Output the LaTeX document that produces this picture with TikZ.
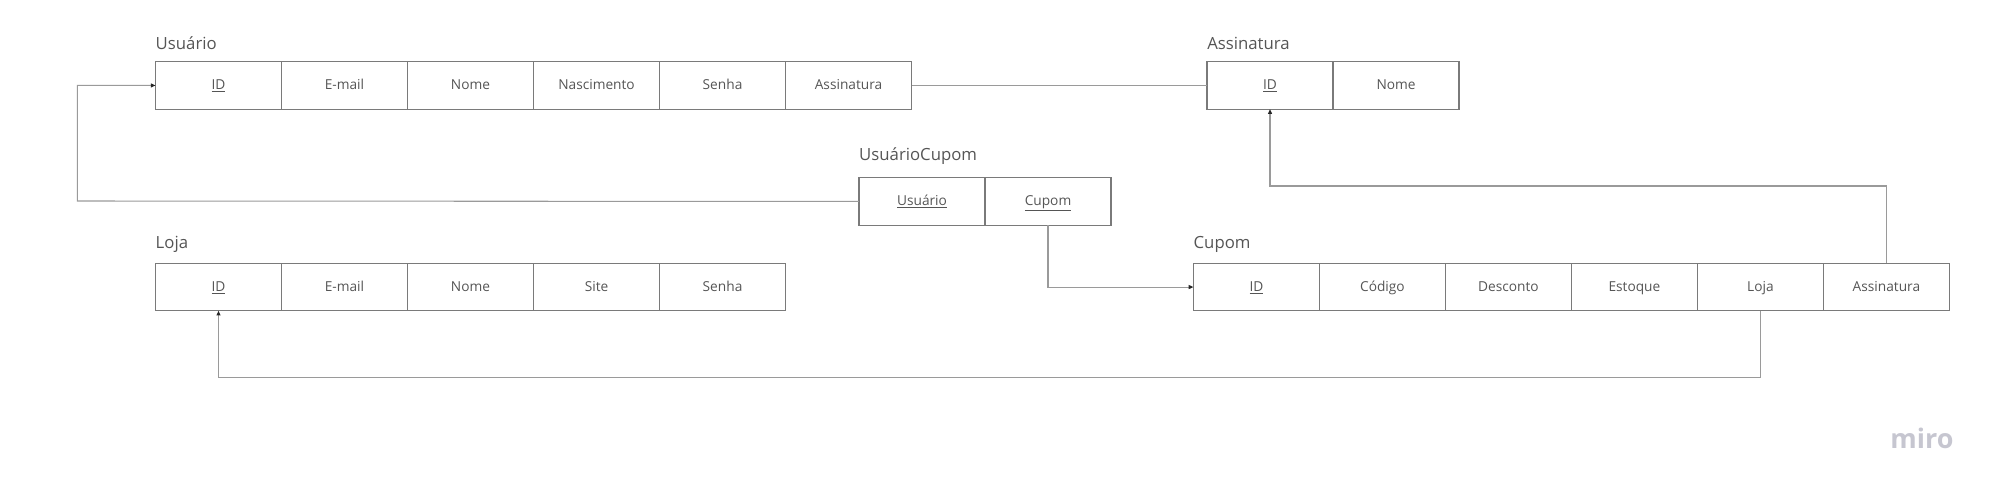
\documentclass[tikz,border=0pt]{standalone}
\usepackage{fontspec}
\setmainfont{Open Sans}
\usepackage{xcolor}
\usetikzlibrary{arrows.meta,positioning}

\definecolor{boxgray}{HTML}{7A7A7A}
\definecolor{linegray}{HTML}{9A9A9A}
\definecolor{txtgray}{HTML}{555555}
\definecolor{logogray}{HTML}{C6C6D0}

\tikzset{
  field/.style={draw=boxgray, line width=1.1pt, minimum width=3.78cm, minimum height=1.425cm,
    inner sep=0pt, outer sep=0pt, text height=1.5ex, text depth=0.2ex,
    text=txtgray, font=\fontsize{11.7}{14}\selectfont},
  tabletitle/.style={anchor=base west, inner sep=0pt, text=txtgray, font=\fontsize{14.3}{17}\selectfont},
  link/.style={draw=linegray, line width=0.9pt},
  fk/.style={link, -{Triangle[length=4pt,width=3.4pt,color=black!85]}}
}

\begin{document}
\begin{tikzpicture}[x=0.03cm, y=-0.03cm]
\useasboundingbox (0,0) rectangle (2000,499);

% Usuario
\node[field, anchor=north west] (u1) at (155.5,61.7) {\underline{ID}};
\node[field, right=0pt of u1] (u2) {E-mail};
\node[field, right=0pt of u2] (u3) {Nome};
\node[field, right=0pt of u3] (u4) {Nascimento};
\node[field, right=0pt of u4] (u5) {Senha};
\node[field, right=0pt of u5] (u6) {Assinatura};
\node[tabletitle] (tusuario) at ([yshift=0.375cm]u1.north west) {Usuário};

% Assinatura
\node[field, anchor=north west] (a1) at (1207,61.7) {\underline{ID}};
\node[field, right=0pt of a1] (a2) {Nome};
\node[tabletitle] (tassinatura) at ([yshift=0.375cm]a1.north west) {Assinatura};

% UsuarioCupom
\node[field, anchor=north west] (uc1) at (859,177.7) {\underline{Usuário}};
\node[field, right=0pt of uc1] (uc2) {\underline{Cupom}};
\node[tabletitle] (tusuariocupom) at ([yshift=0.525cm]uc1.north west) {UsuárioCupom};

% Loja
\node[field, anchor=north west] (l1) at (155.5,263.3) {\underline{ID}};
\node[field, right=0pt of l1] (l2) {E-mail};
\node[field, right=0pt of l2] (l3) {Nome};
\node[field, right=0pt of l3] (l4) {Site};
\node[field, right=0pt of l4] (l5) {Senha};
\node[tabletitle] (tloja) at ([yshift=0.45cm]l1.north west) {Loja};

% Cupom
\node[field, anchor=north west] (c1) at (1193.4,263.3) {\underline{ID}};
\node[field, right=0pt of c1] (c2) {Código};
\node[field, right=0pt of c2] (c3) {Desconto};
\node[field, right=0pt of c3] (c4) {Estoque};
\node[field, right=0pt of c4] (c5) {Loja};
\node[field, right=0pt of c5] (c6) {Assinatura};
\node[tabletitle] (tcupom) at ([yshift=0.45cm]c1.north west) {Cupom};

% bends
\coordinate (ucturn) at (77.3,201);
\coordinate (lojaturn) at (c5.south |- 0,377.7);
\coordinate (assturn) at (c6.north |- 0,186);

% relations
\draw[link] (u6.east) -- (a1.west);
\draw[fk] (uc1.west) -- (ucturn) |- (u1.west);
\draw[fk] (uc2.south) |- (c1.west);
\draw[fk] (c5.south) -- (lojaturn) -| (l1.south);
\draw[fk] (c6.north) -- (assturn) -| (a1.south);

\node[anchor=base, text=logogray, font=\fontsize{23}{26}\selectfont\bfseries] (logo) at (1922,448) {miro};
\end{tikzpicture}
\end{document}
